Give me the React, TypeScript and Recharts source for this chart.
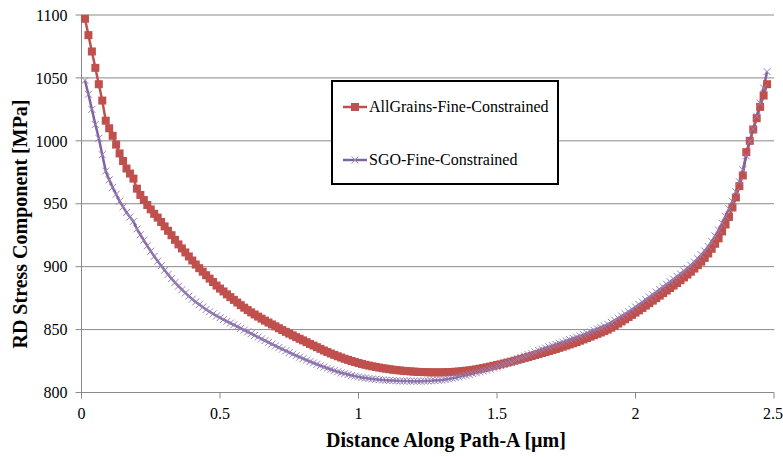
import { LineChart, Line, XAxis, YAxis, CartesianGrid, Legend } from "recharts"

// distance along path-A [µm]
const distance = [
  0.0125, 0.025, 0.0375, 0.05, 0.0625, 0.075, 0.0875, 0.1,
  0.1125, 0.125, 0.1375, 0.15, 0.1625, 0.175, 0.1875, 0.2,
  0.2125, 0.225, 0.2375, 0.25, 0.2625, 0.275, 0.2875, 0.3,
  0.3125, 0.325, 0.3375, 0.35, 0.3625, 0.375, 0.3875, 0.4,
  0.4125, 0.425, 0.4375, 0.45, 0.4625, 0.475, 0.4875, 0.5,
  0.5125, 0.525, 0.5375, 0.55, 0.5625, 0.575, 0.5875, 0.6,
  0.6125, 0.625, 0.6375, 0.65, 0.6625, 0.675, 0.6875, 0.7,
  0.7125, 0.725, 0.7375, 0.75, 0.7625, 0.775, 0.7875, 0.8,
  0.8125, 0.825, 0.8375, 0.85, 0.8625, 0.875, 0.8875, 0.9,
  0.9125, 0.925, 0.9375, 0.95, 0.9625, 0.975, 0.9875, 1.0,
  1.0125, 1.025, 1.0375, 1.05, 1.0625, 1.075, 1.0875, 1.1,
  1.1125, 1.125, 1.1375, 1.15, 1.1625, 1.175, 1.1875, 1.2,
  1.2125, 1.225, 1.2375, 1.25, 1.2625, 1.275, 1.2875, 1.3,
  1.3125, 1.325, 1.3375, 1.35, 1.3625, 1.375, 1.3875, 1.4,
  1.4125, 1.425, 1.4375, 1.45, 1.4625, 1.475, 1.4875, 1.5,
  1.5125, 1.525, 1.5375, 1.55, 1.5625, 1.575, 1.5875, 1.6,
  1.6125, 1.625, 1.6375, 1.65, 1.6625, 1.675, 1.6875, 1.7,
  1.7125, 1.725, 1.7375, 1.75, 1.7625, 1.775, 1.7875, 1.8,
  1.8125, 1.825, 1.8375, 1.85, 1.8625, 1.875, 1.8875, 1.9,
  1.9125, 1.925, 1.9375, 1.95, 1.9625, 1.975, 1.9875, 2.0,
  2.0125, 2.025, 2.0375, 2.05, 2.0625, 2.075, 2.0875, 2.1,
  2.1125, 2.125, 2.1375, 2.15, 2.1625, 2.175, 2.1875, 2.2,
  2.2125, 2.225, 2.2375, 2.25, 2.2625, 2.275, 2.2875, 2.3,
  2.3125, 2.325, 2.3375, 2.35, 2.3625, 2.375, 2.3875, 2.4,
  2.4125, 2.425, 2.4375, 2.45, 2.4625, 2.475,
]

// RD stress [MPa], AllGrains-Fine-Constrained
const allGrains = [
  1097, 1084, 1071, 1058, 1045, 1032, 1016, 1010,
  1004, 997, 990, 984, 978, 974, 970, 962,
  957, 953, 949, 945.5, 942, 939, 935.5, 932,
  928.5, 925, 921.3, 917.7, 914.5, 911.3, 908.1, 904.9,
  901.7, 898.8, 896, 893.2, 890.5, 887.8, 885, 882.6,
  880.3, 878, 875.8, 873.6, 871.5, 869.4, 867.4, 865.5,
  863.7, 862, 860.3, 858.7, 857.1, 855.6, 854.1, 852.6,
  851.1, 849.6, 848.2, 846.8, 845.4, 844, 842.7, 841.4,
  840, 838.6, 837.3, 836, 834.7, 833.4, 832.2, 831,
  829.9, 828.8, 827.8, 826.8, 825.9, 825, 824.2, 823.4,
  822.7, 822, 821.4, 820.8, 820.3, 819.8, 819.3, 818.9,
  818.5, 818.1, 817.8, 817.5, 817.2, 817, 816.8, 816.6,
  816.4, 816.3, 816.2, 816.1, 816, 816, 816, 816,
  816.1, 816.2, 816.3, 816.5, 816.7, 817, 817.3, 817.6,
  818, 818.4, 818.9, 819.4, 820, 820.6, 821.2, 821.8,
  822.4, 823.1, 823.8, 824.5, 825.2, 826, 826.7, 827.5,
  828.2, 829, 829.8, 830.6, 831.4, 832.2, 833, 833.8,
  834.6, 835.5, 836.4, 837.3, 838.2, 839.1, 840.1, 841.2,
  842.2, 843.3, 844.4, 845.5, 846.6, 847.7, 848.8, 850,
  851.5, 853, 854.8, 856.5, 858.2, 860, 861.7, 863.5,
  865.3, 867.2, 869.1, 871, 873, 875, 877, 879,
  881, 883, 885, 887, 889.2, 891.4, 893.7, 896,
  898.5, 901.2, 904, 907, 910.5, 914.2, 918.2, 922.5,
  928, 933.5, 939.5, 947, 955, 964, 972.5, 991,
  1000, 1009, 1018, 1027, 1036, 1045,
]

// RD stress [MPa], SGO-Fine-Constrained
const sgo = [
  1048, 1037, 1025, 1013, 1002, 989, 976, 969,
  963, 957.5, 952, 947.5, 943, 939.5, 936, 930,
  925.4, 920.9, 916.5, 912.3, 908.2, 904.4, 900.7, 897.2,
  893.8, 890.5, 887.4, 884.5, 881.7, 879.1, 876.6, 874.2,
  872, 869.9, 867.9, 866, 864.2, 862.5, 860.9, 859.4,
  858, 856.6, 855.2, 853.8, 852.4, 851, 849.6, 848.2,
  846.8, 845.4, 844, 842.6, 841.2, 839.8, 838.4, 837,
  835.7, 834.4, 833.1, 831.8, 830.5, 829.3, 828.1, 826.9,
  825.7, 824.6, 823.5, 822.4, 821.3, 820.3, 819.3, 818.3,
  817.4, 816.5, 815.7, 815, 814.3, 813.6, 813, 812.4,
  811.9, 811.5, 811.1, 810.8, 810.5, 810.2, 810, 809.8,
  809.6, 809.5, 809.3, 809.2, 809.1, 809.1, 809, 809,
  809, 809, 809.1, 809.2, 809.3, 809.5, 809.7, 809.9,
  810.3, 810.8, 811.3, 811.8, 812.4, 813, 813.6, 814.3,
  815, 815.7, 816.4, 817.1, 817.8, 818.6, 819.5, 820.5,
  821.4, 822.3, 823.3, 824.3, 825.4, 826.5, 827.7, 829,
  830.1, 831.2, 832.3, 833.5, 834.4, 835.4, 836.3, 837.3,
  838.2, 839.1, 840, 841, 842, 843, 844, 845,
  846, 847, 848.2, 849.5, 850.6, 851.7, 852.9, 854.2,
  855.8, 857.4, 859.1, 860.8, 862.5, 864.2, 866.1, 868,
  869.9, 871.8, 873.8, 875.8, 877.8, 879.8, 881.9, 884,
  886, 888, 890.1, 892.2, 894.3, 896.5, 898.7, 901,
  903.7, 906.4, 909.4, 912.5, 916, 920, 924.4, 929,
  934.5, 940, 946, 952, 959.5, 967.5, 977, 988,
  999.5, 1009.5, 1019.5, 1030, 1042, 1055,
]

const seriesNames = ["AllGrains-Fine-Constrained", "SGO-Fine-Constrained"]
const xTicks = [0, 0.5, 1, 1.5, 2, 2.5]
const yTicks = [800, 850, 900, 950, 1000, 1050, 1100]

const RED = "#C0504D"
const PURPLE = "#8064A2"
const CROSS = "#9682b8"
const GRID = "#8a8a8a"
const FONT = "'Liberation Serif', 'Times New Roman', serif"

const data = distance.map((d, i) => ({ d, allGrains: allGrains[i], sgo: sgo[i] }))

function SquareDot(props: any) {
  const { cx, cy, index } = props
  if (cx == null || cy == null) return null
  return <rect key={`sq-${index}`} x={cx - 4} y={cy - 4} width={8} height={8} fill={RED} />
}

function CrossDot(props: any) {
  const { cx, cy, index } = props
  if (cx == null || cy == null) return null
  const r = 3.5
  return (
    <path
      key={`x-${index}`}
      d={`M${cx - r},${cy - r}L${cx + r},${cy + r}M${cx - r},${cy + r}L${cx + r},${cy - r}`}
      stroke={CROSS}
      strokeWidth={1}
      fill="none"
    />
  )
}

function XTick(props: any) {
  const { x, y, payload } = props
  return (
    <text x={x} y={y} dy="0.71em" textAnchor="middle" fontFamily={FONT} fontSize={16} fill="#000">
      {String(payload.value)}
    </text>
  )
}

function YTick(props: any) {
  const { x, y, payload } = props
  return (
    <text x={x} y={y} dy="0.355em" textAnchor="end" fontFamily={FONT} fontSize={16} fill="#000">
      {payload.value}
    </text>
  )
}

function YTitle() {
  const x = 20
  const y = 224
  return (
    <text
      x={x}
      y={y}
      transform={`rotate(-90, ${x}, ${y})`}
      textAnchor="middle"
      dominantBaseline="central"
      fontFamily={FONT}
      fontWeight="bold"
      fontSize={20}
      fill="#000"
    >
      RD Stress Component [MPa]
    </text>
  )
}

function XTitle() {
  return (
    <text
      x={446}
      y={440}
      textAnchor="middle"
      dominantBaseline="central"
      fontFamily={FONT}
      fontWeight="bold"
      fontSize={20}
      fill="#000"
    >
      Distance Along Path-A [µm]
    </text>
  )
}

function LegendBox() {
  const row = { position: "absolute" as const, left: 9, display: "flex", alignItems: "center", height: 20 }
  return (
    <div
      style={{
        width: 228,
        height: 105,
        border: "2px solid #000",
        boxSizing: "border-box",
        background: "#fff",
        fontFamily: FONT,
        fontSize: 16,
        color: "#000",
        position: "relative",
      }}
    >
      <div style={{ ...row, top: 15 }}>
        <svg width={26} height={12}>
          <line x1={1} y1={6} x2={25} y2={6} stroke={RED} strokeWidth={2.5} />
          <rect x={9} y={2} width={8} height={8} fill={RED} />
        </svg>
        <span style={{ marginLeft: 1 }}>{seriesNames[0]}</span>
      </div>
      <div style={{ ...row, top: 68 }}>
        <svg width={26} height={12}>
          <line x1={1} y1={6} x2={25} y2={6} stroke={PURPLE} strokeWidth={2.5} />
          <path d="M9.5,2.5L16.5,9.5M9.5,9.5L16.5,2.5" stroke={CROSS} strokeWidth={1} />
        </svg>
        <span style={{ marginLeft: 1 }}>{seriesNames[1]}</span>
      </div>
    </div>
  )
}

export default function App() {
  return (
    <div style={{ position: "absolute", left: 0, top: 0, width: 783, height: 457, background: "#fff" }}>
      <LineChart width={783} height={457} data={data} margin={{ top: 15, right: 9, bottom: 14.5, left: 0 }}>
        <CartesianGrid vertical={false} stroke={GRID} strokeWidth={1} />
        <XAxis
          dataKey="d"
          type="number"
          domain={[0, 2.5]}
          ticks={xTicks}
          height={50}
          stroke={GRID}
          tickSize={6}
          tickMargin={9}
          tick={<XTick />}
          label={<XTitle />}
        />
        <YAxis
          type="number"
          domain={[800, 1100]}
          ticks={yTicks}
          width={81.5}
          stroke={GRID}
          tickSize={6}
          tickMargin={8}
          tick={<YTick />}
          label={<YTitle />}
        />
        <Legend
          layout="vertical"
          align="center"
          verticalAlign="middle"
          content={<LegendBox />}
          wrapperStyle={{ left: 331, top: 80, width: 228, height: 105 }}
        />
        <Line
          type="linear"
          dataKey="allGrains"
          name={seriesNames[0]}
          stroke={RED}
          strokeWidth={2.5}
          dot={(p: any) => <SquareDot key={`sq-${p.index}`} {...p} />}
          isAnimationActive={false}
        />
        <Line
          type="linear"
          dataKey="sgo"
          name={seriesNames[1]}
          stroke={PURPLE}
          strokeWidth={2.5}
          dot={(p: any) => <CrossDot key={`x-${p.index}`} {...p} />}
          isAnimationActive={false}
        />
      </LineChart>
    </div>
  )
}
